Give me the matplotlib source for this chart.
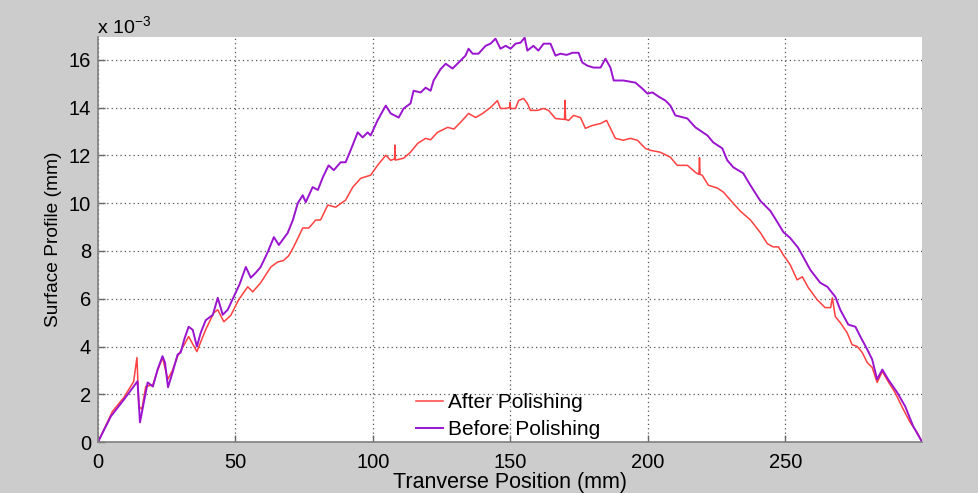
import matplotlib
matplotlib.use('Agg')
import matplotlib.pyplot as plt
import numpy as np

# surface profile, values in units of 1e-3 mm
x_before = [0, 4.7, 9.5, 13, 14.4, 15.3, 16.7, 18.1, 20, 21.7, 23.5, 24.4, 25.5, 27.1, 29, 30.1,
            31.4, 33, 34.5, 36, 37.4, 39.2, 41.8, 43.6, 45.4, 47.2, 49.4, 51.5, 53.8, 55.6, 57.5,
            59.2, 61.8, 64, 65.8, 69, 70.9, 72.7, 74.5, 75.6, 78.1, 80, 81.8, 83.9, 85.8, 88.3,
            90.1, 91.9, 94.5, 96.3, 98.1, 99.2, 101.7, 104.7, 106.5, 109.4, 111.2, 113.7, 114.8,
            117.4, 119.2, 121, 122.1, 124.6, 126.5, 129, 131.9, 133.7, 134.8, 136.3, 138.4, 141,
            142.8, 144.6, 146.4, 148.3, 150.1, 151.9, 153.7, 155.2, 156.2, 158.4, 160.2, 162.1,
            164.6, 166.4, 168.2, 170.5, 172.6, 174.8, 176.2, 178, 180.2, 182.8, 184.6, 186.4,
            187.6, 191.1, 195.5, 198, 199.9, 201.7, 204, 206.4, 208.2, 210, 214.4, 217.3, 221.7,
            223.8, 227.1, 228.9, 231.1, 234.7, 237.3, 240.9, 244.6, 247.1, 249.3, 251.8, 254.7,
            256.5, 259.1, 262.7, 265.3, 268.2, 270, 272.9, 275.5, 277.3, 279.8, 281.6, 283.4,
            285.3, 287.4, 290.7, 293.6, 296.5, 299.8]
y_before = [0, 1.08, 1.79, 2.33, 2.55, 0.83, 1.67, 2.5, 2.33, 3.04, 3.6, 3.33, 2.3, 2.9, 3.67, 3.75,
            4.3, 4.83, 4.7, 4.0, 4.58, 5.1, 5.33, 6.04, 5.33, 5.54, 6.08, 6.6, 7.33, 6.88, 7.1,
            7.33, 7.96, 8.58, 8.25, 8.75, 9.29, 10.0, 10.33, 10.04, 10.67, 10.55, 11.08, 11.58,
            11.38, 11.71, 11.71, 12.21, 12.96, 12.75, 12.96, 12.83, 13.46, 14.08, 13.75, 13.58,
            13.96, 14.17, 14.7, 14.63, 14.83, 14.7, 15.13, 15.6, 15.83, 15.63, 15.96, 16.17, 16.46,
            16.25, 16.25, 16.58, 16.67, 16.88, 16.46, 16.58, 16.46, 16.67, 16.71, 16.92, 16.38,
            16.58, 16.38, 16.67, 16.67, 16.17, 16.25, 16.2, 16.29, 16.29, 15.88, 15.75, 15.67,
            15.67, 16.04, 15.67, 15.13, 15.13, 15.04, 14.79, 14.58, 14.63, 14.45, 14.29, 14.08,
            13.67, 13.54, 13.17, 12.83, 12.54, 12.29, 11.79, 11.5, 11.25, 10.75, 10.1, 9.67, 9.21,
            8.79, 8.54, 8.13, 7.75, 7.21, 6.67, 6.5, 6.08, 5.54, 4.92, 4.83, 4.42, 3.88, 3.46,
            2.63, 3.04, 2.63, 2.08, 1.5, 0.67, 0]

x_after = [0, 5.3, 9.5, 13, 14.2, 14.9, 16, 17.4, 20, 21.7, 23.5, 25.4, 27.1, 29, 31, 33, 36, 39.2,
           42.2, 43.6, 45.8, 48.3, 51.2, 54.5, 56.3, 59.2, 62.9, 65.4, 67.5, 69.4, 71.2, 74.5,
           76.7, 79.2, 81, 83.6, 86.5, 90.1, 92.7, 95.6, 99.2, 101.7, 104.7, 106.5, 107.9, 108.0,
           108.2, 111.2, 113.7, 116.3, 119.2, 121, 123.5, 127.2, 129.5, 131.9, 134.8, 137.4,
           139.9, 142.8, 145.3, 146.4, 148.3, 149.8, 149.9, 150.1, 151.9, 153, 154.8, 156.2,
           157.3, 159.9, 162.1, 163.9, 166.4, 169.7, 169.9, 170.1, 171.2, 173, 175.5, 177.3,
           179.9, 182.8, 185, 186.4, 188.2, 191.1, 193.7, 196.2, 199.1, 200.9, 204.5, 208.2,
           210.7, 214.4, 217.3, 218.6, 218.8, 219.0, 219.8, 222, 225.3, 227.5, 230.7, 233.6,
           237.3, 240.9, 243.5, 245.6, 247.5, 249.3, 251.8, 254.3, 256.2, 258.4, 261.6, 264.5,
           266.5, 267.1, 268.2, 270, 272.5, 274.3, 276.2, 278, 279.8, 281.6, 283.4, 285.3, 287.4,
           289.9, 292.9, 295.4, 297.9, 299.8]
y_after = [0, 1.29, 1.88, 2.54, 3.54, 1.5, 1.38, 2.33, 2.4, 3.0, 3.54, 2.63, 3.0, 3.6, 4.0, 4.42,
           3.79, 4.71, 5.42, 5.54, 5.04, 5.3, 5.96, 6.5, 6.29, 6.67, 7.33, 7.54, 7.6, 7.8, 8.17,
           8.96, 8.96, 9.29, 9.3, 9.92, 9.83, 10.13, 10.67, 11.04, 11.17, 11.58, 12.0, 11.79,
           11.85, 12.43, 11.8, 11.88, 12.13, 12.5, 12.71, 12.65, 12.96, 13.17, 13.1, 13.38, 13.75,
           13.58, 13.75, 14.0, 14.29, 13.96, 13.96, 14.0, 14.21, 13.96, 13.96, 14.29, 14.38,
           14.17, 13.88, 13.88, 13.96, 13.88, 13.54, 13.5, 14.3, 13.5, 13.46, 13.67, 13.58, 13.13,
           13.25, 13.33, 13.46, 13.13, 12.71, 12.63, 12.71, 12.63, 12.29, 12.21, 12.13, 11.92,
           11.58, 11.58, 11.29, 11.2, 11.9, 11.2, 11.17, 10.75, 10.63, 10.46, 10.04, 9.67, 9.3,
           8.77, 8.3, 8.17, 8.17, 7.83, 7.42, 6.79, 6.92, 6.46, 5.96, 5.63, 5.63, 6.04, 5.25, 5.0,
           4.58, 4.08, 4.0, 3.75, 3.33, 3.13, 2.5, 2.96, 2.54, 2.08, 1.38, 0.83, 0.42, 0]

plt.rcParams['font.family'] = ['Liberation Sans', 'DejaVu Sans']
plt.rcParams['mathtext.default'] = 'regular'

fig = plt.figure(figsize=(9.79, 4.93), dpi=100, facecolor='#cccccc')
ax = fig.add_axes([0.1, 0.103, 0.842, 0.822])
ax.set_facecolor('white')

ax.plot(x_after, y_after, color='#ff4040', lw=1.1, label='After Polishing')
ax.plot(x_before, y_before, color='#9a14d0', lw=1.4, label='Before Polishing')

ax.set_xlim(0, 299.8)
ax.set_ylim(0, 16.95)
ax.set_xticks([0, 50, 100, 150, 200, 250])
ax.set_yticks(np.arange(0, 17, 2))
ax.grid(True, color='#555555', linestyle=(0, (1, 2.5)), lw=0.9)
ax.tick_params(direction='in', length=5, width=1, color='#666666', labelsize=14.5)
ax.tick_params(axis='x', pad=8)
ax.tick_params(axis='y', pad=5)

for s in ['top', 'right']:
    ax.spines[s].set_visible(False)
for s in ['left', 'bottom']:
    ax.spines[s].set_color('#808080')
    ax.spines[s].set_linewidth(1.2)

ax.set_xlabel('Tranverse Position (mm)', fontsize=15.5, labelpad=0)
ax.set_ylabel('Surface Profile (mm)', fontsize=13.8, labelpad=5)
fig.text(0.099, 0.932, 'x 10$^{-3}$', fontsize=14)

ax.legend(loc='lower left', bbox_to_anchor=(0.386, 0.007), frameon=False, fontsize=15,
          handlelength=1.3, handletextpad=0.25, borderpad=0, borderaxespad=0,
          labelspacing=0.4)

fig.savefig('out.png', dpi=100, facecolor=fig.get_facecolor())
